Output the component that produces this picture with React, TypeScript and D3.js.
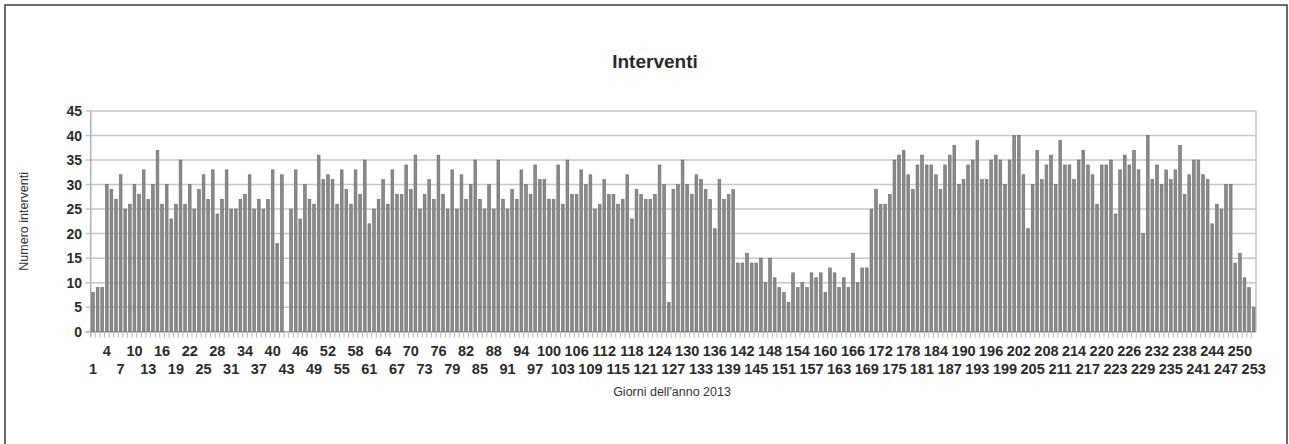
import { useEffect, useRef } from "react";
import * as d3 from "d3";

// Giorni 1..253 (2013), numero interventi
const interventi: number[] = [
  8, 9, 9, 30, 29, 27, 32, 25, 26, 30,
  28, 33, 27, 30, 37, 26, 30, 23, 26, 35,
  26, 30, 25, 29, 32, 27, 33, 24, 27, 33,
  25, 25, 27, 28, 32, 25, 27, 25, 27, 33,
  18, 32, 0, 25, 33, 23, 30, 27, 26, 36,
  31, 32, 31, 26, 33, 29, 26, 33, 28, 35,
  22, 25, 27, 31, 26, 33, 28, 28, 34, 29,
  36, 25, 28, 31, 27, 36, 28, 25, 33, 25,
  32, 27, 30, 35, 27, 25, 30, 25, 35, 27,
  25, 29, 27, 33, 30, 28, 34, 31, 31, 27,
  27, 34, 26, 35, 28, 28, 33, 30, 32, 25,
  26, 31, 28, 28, 26, 27, 32, 23, 29, 28,
  27, 27, 28, 34, 30, 6, 29, 30, 35, 30,
  28, 32, 31, 29, 27, 21, 31, 27, 28, 29,
  14, 14, 16, 14, 14, 15, 10, 15, 11, 9,
  8, 6, 12, 9, 10, 9, 12, 11, 12, 8,
  13, 12, 9, 11, 9, 16, 10, 13, 13, 25,
  29, 26, 26, 28, 35, 36, 37, 32, 29, 34,
  36, 34, 34, 32, 29, 34, 36, 38, 30, 31,
  34, 35, 39, 31, 31, 35, 36, 35, 30, 35,
  40, 40, 32, 21, 30, 37, 31, 34, 36, 30,
  39, 34, 34, 31, 35, 37, 34, 32, 26, 34,
  34, 35, 24, 33, 36, 34, 37, 33, 20, 40,
  31, 34, 30, 33, 31, 33, 38, 28, 32, 35,
  35, 32, 31, 22, 26, 25, 30, 30, 14, 16,
  11, 9, 5,
];
const giorni: number[] = interventi.map((_, i) => i + 1);
const yTicks: number[] = [0, 5, 10, 15, 20, 25, 30, 35, 40, 45];

const title = "Interventi";
const xTitle = "Giorni dell'anno 2013";
const yTitle = "Numero interventi";

const App = () => {
  const chartRef = useRef<SVGSVGElement | null>(null);

  useEffect(() => {
    if (!chartRef.current) return;
    const svg = d3.select(chartRef.current);
    svg.selectAll("*").remove();

    const width = 1289,
      height = 444;
    const margin = { top: 111, right: 33, bottom: 112.3, left: 90.7 };
    const font = "'Liberation Sans', Arial, sans-serif";

    svg.attr("width", width).attr("height", height);

    // cornice
    svg
      .append("rect")
      .attr("x", 5)
      .attr("y", 5)
      .attr("width", 1282)
      .attr("height", 460)
      .attr("fill", "#fff")
      .attr("stroke", "#3a3a3a")
      .attr("stroke-width", 1.5);

    const x = d3
      .scaleBand<number>()
      .domain(giorni)
      .range([margin.left, width - margin.right])
      .paddingInner(0.4)
      .paddingOuter(0.2);
    const y = d3
      .scaleLinear()
      .domain([0, 45])
      .range([height - margin.bottom, margin.top]);

    const x0 = margin.left,
      x1 = width - margin.right,
      yBottom = y(0);

    // griglia
    svg
      .append("g")
      .selectAll("line")
      .data(yTicks)
      .enter()
      .append("line")
      .attr("x1", x0 - 5)
      .attr("x2", x1)
      .attr("y1", (d) => y(d))
      .attr("y2", (d) => y(d))
      .attr("stroke", "#c6c6c6")
      .attr("stroke-width", 1.5);

    // bordo destro e asse sinistro
    svg
      .append("line")
      .attr("x1", x1)
      .attr("x2", x1)
      .attr("y1", y(45))
      .attr("y2", yBottom)
      .attr("stroke", "#c6c6c6")
      .attr("stroke-width", 1.5);
    svg
      .append("line")
      .attr("x1", x0)
      .attr("x2", x0)
      .attr("y1", y(45))
      .attr("y2", yBottom + 5)
      .attr("stroke", "#b0b0b0")
      .attr("stroke-width", 1.5);

    // tacche asse x
    const step = x.step();
    svg
      .append("g")
      .selectAll("line")
      .data(giorni)
      .enter()
      .append("line")
      .attr("x1", (d) => x(d)! - (step - x.bandwidth()) / 2)
      .attr("x2", (d) => x(d)! - (step - x.bandwidth()) / 2)
      .attr("y1", yBottom)
      .attr("y2", yBottom + 6)
      .attr("stroke", "#b8b8b8")
      .attr("stroke-width", 1);

    svg
      .append("line")
      .attr("x1", x0 - 5)
      .attr("x2", x1)
      .attr("y1", yBottom)
      .attr("y2", yBottom)
      .attr("stroke", "#b0b0b0")
      .attr("stroke-width", 1.5);

    // barre
    svg
      .append("g")
      .selectAll("rect")
      .data(giorni)
      .enter()
      .append("rect")
      .attr("x", (d) => x(d)!)
      .attr("y", (d) => y(interventi[d - 1]))
      .attr("width", x.bandwidth())
      .attr("height", (d) => yBottom - y(interventi[d - 1]))
      .attr("fill", "#8a8a8a")
      .attr("stroke", "#6a6a6a")
      .attr("stroke-width", 0.6);

    // etichette asse y
    svg
      .append("g")
      .selectAll("text")
      .data(yTicks)
      .enter()
      .append("text")
      .attr("x", 82)
      .attr("y", (d) => y(d))
      .attr("dy", "0.36em")
      .attr("text-anchor", "end")
      .attr("font-family", font)
      .attr("font-size", 14)
      .attr("font-weight", "bold")
      .attr("fill", "#2a2a2a")
      .text((d) => d);

    // etichette asse x, ogni 3 giorni su due righe
    const xLabels = giorni.filter((d) => (d - 1) % 3 === 0);
    svg
      .append("g")
      .selectAll("text")
      .data(xLabels)
      .enter()
      .append("text")
      .attr("x", (d) => x(d)! + x.bandwidth() / 2)
      .attr("y", (d) => (((d - 1) / 3) % 2 === 1 ? 356 : 373.5))
      .attr("text-anchor", "middle")
      .attr("font-family", font)
      .attr("font-size", 14.5)
      .attr("font-weight", "bold")
      .attr("fill", "#2a2a2a")
      .text((d) => d);

    svg
      .append("text")
      .attr("x", 655)
      .attr("y", 68)
      .attr("text-anchor", "middle")
      .attr("font-family", font)
      .attr("font-size", 19)
      .attr("font-weight", "bold")
      .attr("fill", "#2a2a2a")
      .text(title);

    svg
      .append("text")
      .attr("x", 672)
      .attr("y", 396)
      .attr("text-anchor", "middle")
      .attr("font-family", font)
      .attr("font-size", 12.5)
      .attr("fill", "#333")
      .text(xTitle);

    svg
      .append("text")
      .attr("transform", `translate(28, ${(y(45) + yBottom) / 2}) rotate(-90)`)
      .attr("text-anchor", "middle")
      .attr("font-family", font)
      .attr("font-size", 12.5)
      .attr("fill", "#333")
      .text(yTitle);
  }, []);

  return (
    <div style={{ position: "absolute", left: 0, top: 0 }}>
      <svg ref={chartRef} style={{ display: "block" }}></svg>
    </div>
  );
};

export default App;
